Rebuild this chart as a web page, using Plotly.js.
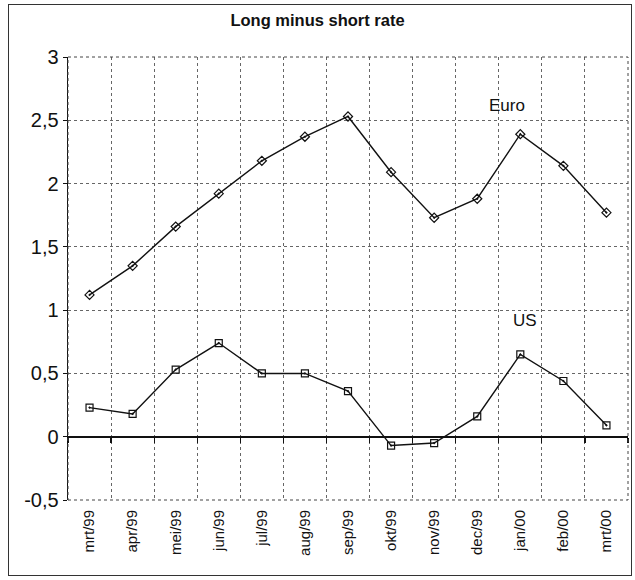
<!DOCTYPE html>
<html>
<head>
<meta charset="utf-8">
<script src="https://cdn.plot.ly/plotly-3.0.1.min.js"></script>
<style>
  html, body { margin: 0; padding: 0; background: #fff; }
  #wrap { position: relative; width: 635px; height: 580px; }
  #chart { width: 635px; height: 580px; }
  #frame { position: absolute; left: 8px; top: 4px; width: 624px; height: 572px;
           border: 1px solid #333; pointer-events: none; box-sizing: border-box; }
</style>
</head>
<body>
<div id="wrap">
  <div id="chart"></div>
  <div id="frame"></div>
</div>
<script>
const months = ["mrt/99","apr/99","mei/99","jun/99","jul/99","aug/99","sep/99",
                "okt/99","nov/99","dec/99","jan/00","feb/00","mrt/00"];
const euro = [1.12, 1.35, 1.66, 1.92, 2.18, 2.37, 2.53, 2.09, 1.73, 1.88, 2.39, 2.14, 1.77];
const us   = [0.23, 0.18, 0.53, 0.74, 0.50, 0.50, 0.36, -0.07, -0.05, 0.16, 0.65, 0.44, 0.09];
const yTickVals = [-0.5, 0, 0.5, 1, 1.5, 2, 2.5, 3];
const yTickText = ["-0,5", "0", "0,5", "1", "1,5", "2", "2,5", "3"];

const FONT = '"Liberation Sans", Arial, sans-serif';
const Y_MIN = -0.5, Y_MAX = 3;
const zeroFrac = (0 - Y_MIN) / (Y_MAX - Y_MIN);

const traces = [
  { x: months, y: euro, name: "Euro", type: "scatter", mode: "lines+markers",
    line: { color: "#111", width: 1.4 },
    marker: { symbol: "diamond-open-dot", size: 7, color: "#111", line: { width: 1.2 } } },
  { x: months, y: us, name: "US", type: "scatter", mode: "lines+markers",
    line: { color: "#111", width: 1.4 },
    marker: { symbol: "square-open-dot", size: 7, color: "#111", line: { width: 1.2 } } },
  // invisible trace that carries the zero-line axis (ticks between months)
  { x: months, y: us, xaxis: "x2", yaxis: "y2", type: "scatter", mode: "none",
    hoverinfo: "skip", showlegend: false }
];

const layout = {
  width: 635, height: 580,
  margin: { l: 68, r: 7, t: 57, b: 80 },
  paper_bgcolor: "rgba(0,0,0,0)",
  plot_bgcolor: "rgba(0,0,0,0)",
  showlegend: false,
  font: { family: FONT, color: "#111" },
  title: { text: "<b>Long minus short rate</b>", x: 0.5, xanchor: "center", y: 0.965, yanchor: "middle",
           font: { family: FONT, size: 16.5, color: "#111" } },
  xaxis: {
    type: "category", categoryorder: "array", categoryarray: months,
    range: [-0.5, 12.5], anchor: "y",
    tickson: "boundaries", ticks: "", showline: false, zeroline: false,
    showgrid: true, gridcolor: "#666", griddash: "dot", gridwidth: 1,
    tickangle: -90, tickfont: { family: FONT, size: 15, color: "#111" },
    ticklabelstandoff: 6, fixedrange: true
  },
  yaxis: {
    range: [Y_MIN, Y_MAX], tickvals: yTickVals, ticktext: yTickText, domain: [0, 1],
    showline: true, linecolor: "#111", linewidth: 1.4, ticks: "outside", ticklen: 4, tickcolor: "#111",
    showgrid: true, gridcolor: "#666", griddash: "dot", gridwidth: 1,
    zeroline: false,
    tickfont: { family: FONT, size: 20, color: "#111" }, fixedrange: true
  },
  xaxis2: {
    type: "category", categoryorder: "array", categoryarray: months,
    range: [-0.5, 12.5], anchor: "y2", domain: [0, 1],
    tickson: "boundaries", ticks: "outside", ticklen: 5, tickcolor: "#111", tickwidth: 1.2,
    showline: true, linecolor: "#111", linewidth: 1.4,
    showticklabels: false, showgrid: false, zeroline: false, fixedrange: true
  },
  yaxis2: {
    domain: [zeroFrac, 1], anchor: "x2", range: [0, 1],
    visible: false, showgrid: false, zeroline: false, fixedrange: true
  },
  shapes: [
    { type: "rect", xref: "paper", yref: "paper", x0: 0, x1: 1, y0: 0, y1: 1,
      line: { color: "#444", width: 1, dash: "dot" } },
    { type: "line", xref: "paper", yref: "y", x0: 0, x1: 1, y0: 0, y1: 0,
      line: { color: "#111", width: 1.4 }, layer: "above" }
  ],
  annotations: [
    { x: 9.7, y: 2.62, xref: "x", yref: "y", text: "Euro", showarrow: false,
      font: { family: FONT, size: 17, color: "#111" } },
    { x: 10.12, y: 0.92, xref: "x", yref: "y", text: "US", showarrow: false,
      font: { family: FONT, size: 17, color: "#111" } }
  ]
};

Plotly.newPlot("chart", traces, layout, { displayModeBar: false, staticPlot: true });
</script>
</body>
</html>
